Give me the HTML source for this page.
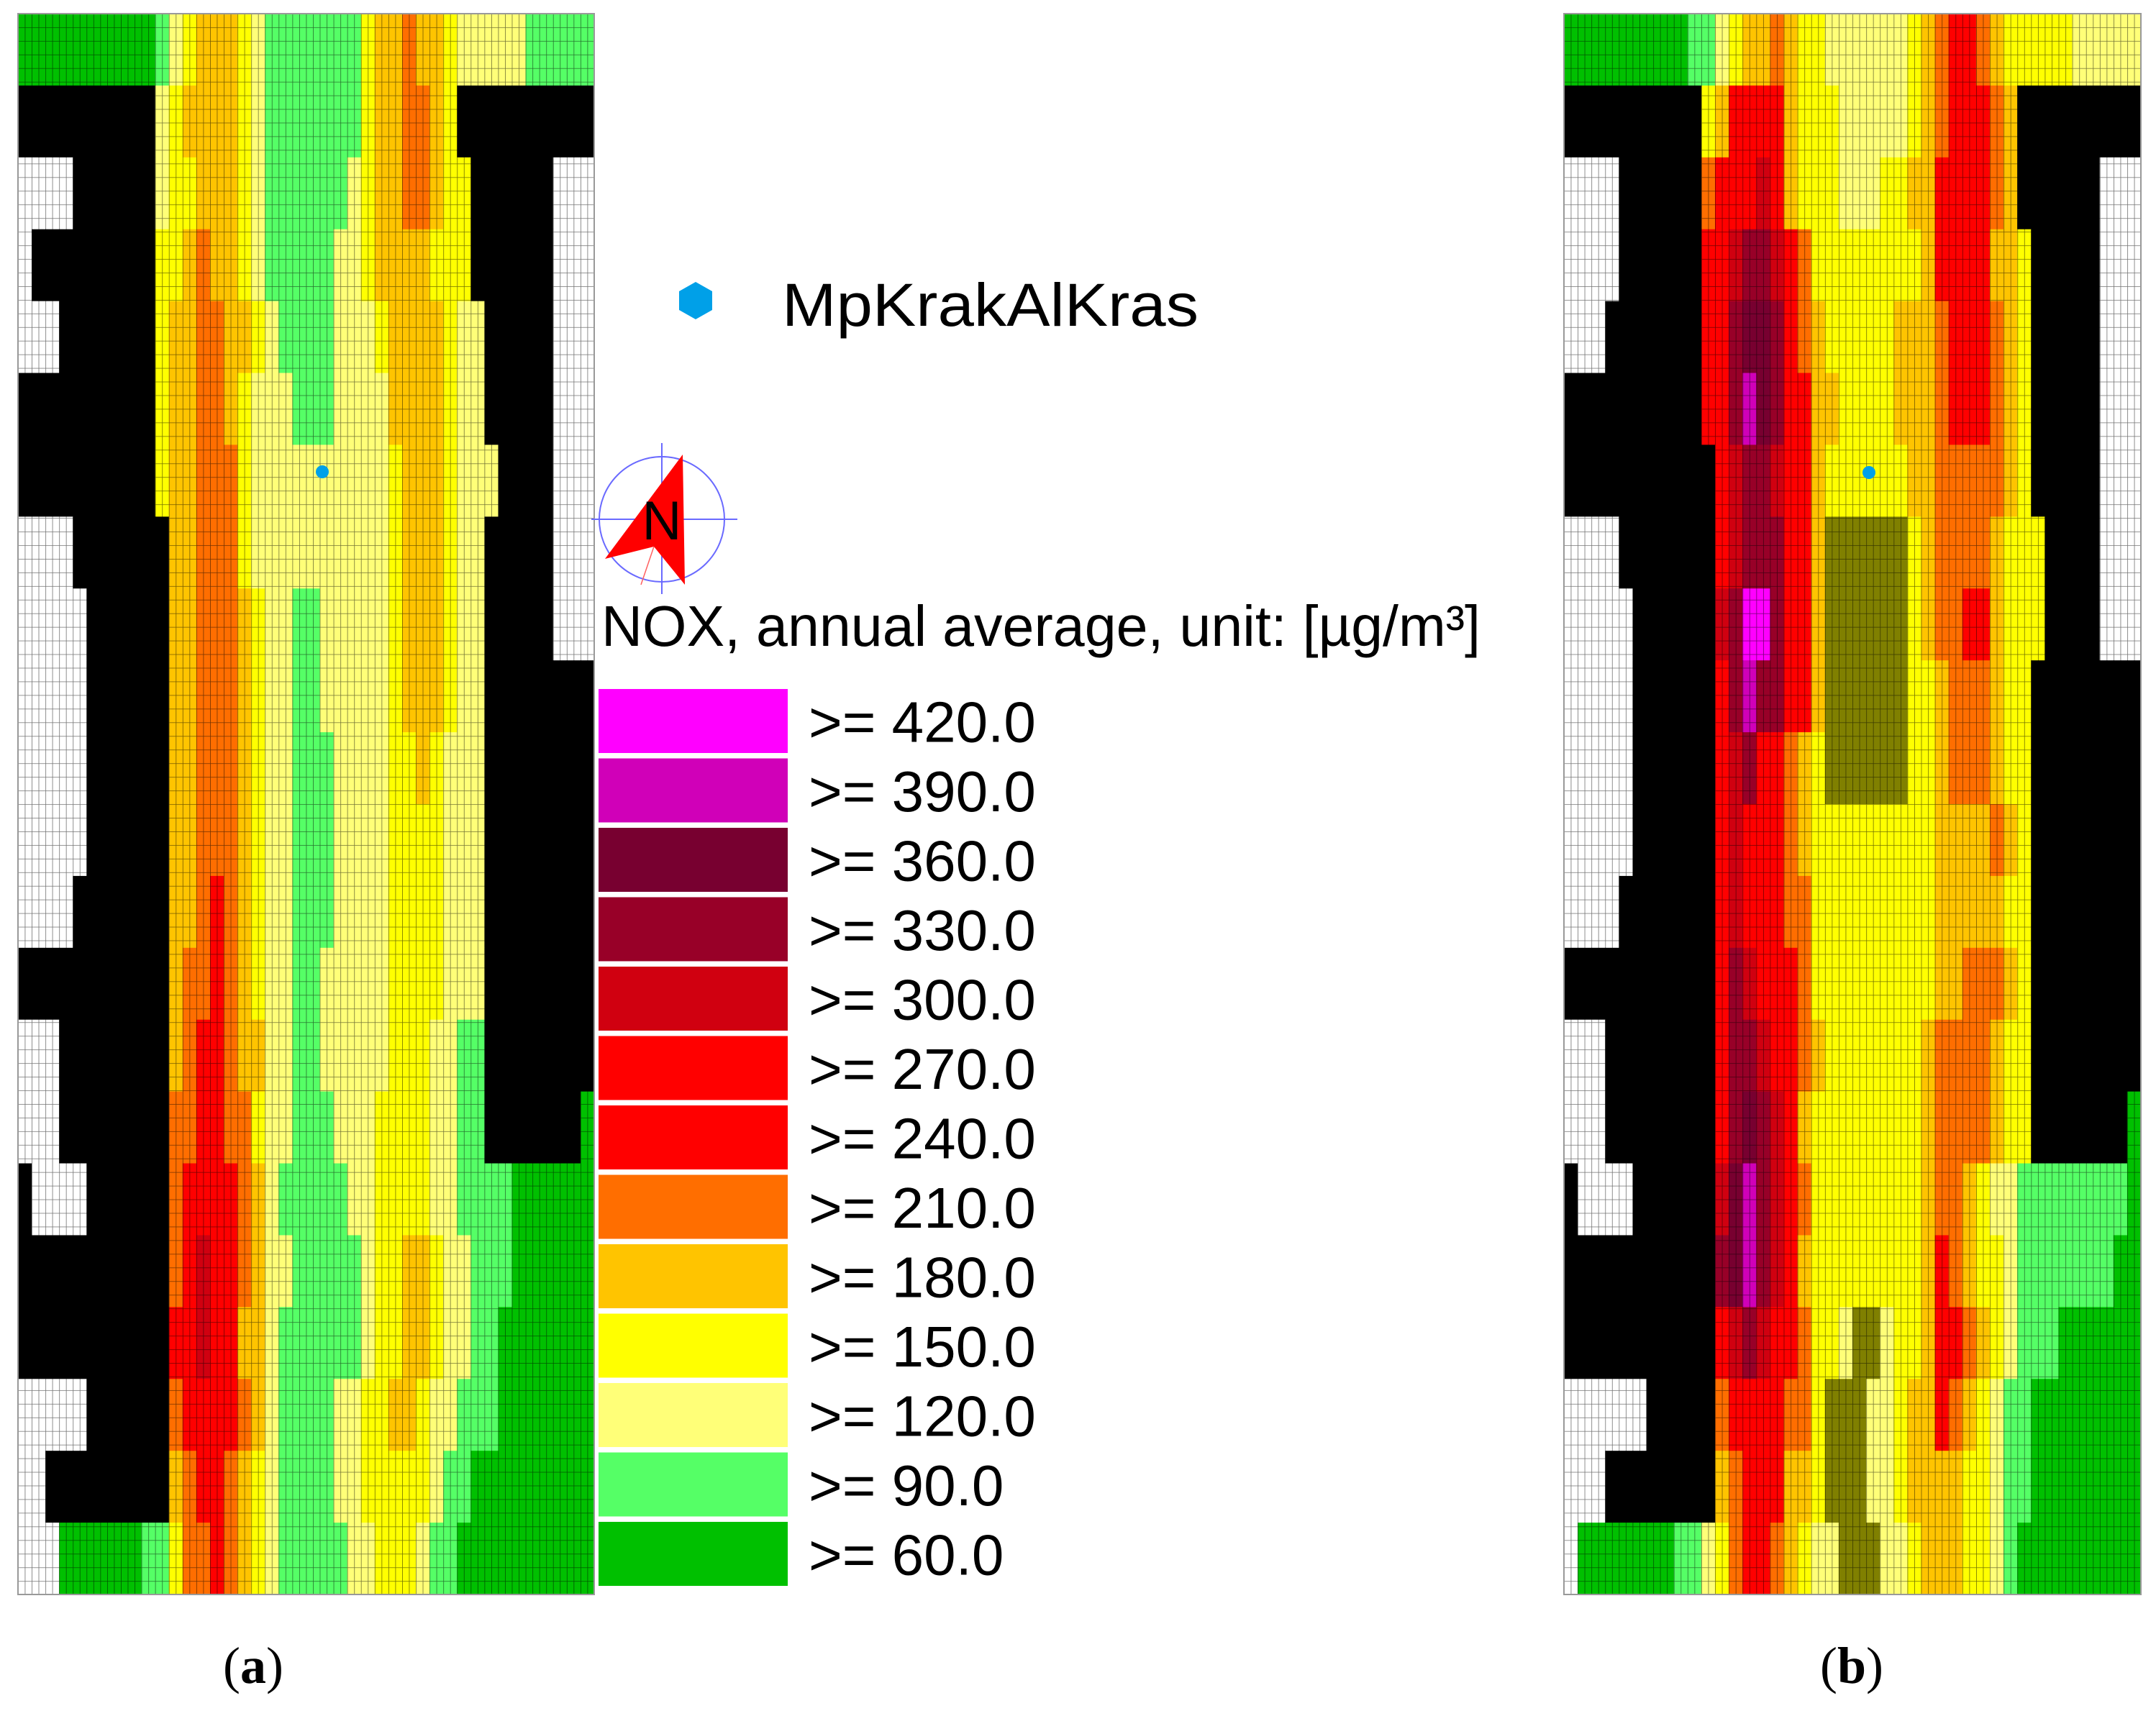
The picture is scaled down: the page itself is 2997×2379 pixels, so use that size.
<!DOCTYPE html>
<html><head><meta charset="utf-8"><title>NOX annual average maps</title>
<style>html,body{margin:0;padding:0;background:#fff}svg{display:block}</style></head>
<body>
<svg id="fig" xmlns="http://www.w3.org/2000/svg" width="2997" height="2379" viewBox="0 0 2997 2379">
<defs>
<pattern id="gridA" x="25" y="19" width="9.536" height="18.95" patternUnits="userSpaceOnUse">
<path d="M0 0H9.536M0 0V18.95" stroke="#000" stroke-opacity="0.55" stroke-width="1.6" fill="none"/>
</pattern>
<pattern id="gridB" x="2174" y="19" width="9.55" height="18.95" patternUnits="userSpaceOnUse">
<path d="M0 0H9.55M0 0V18.95" stroke="#000" stroke-opacity="0.55" stroke-width="1.6" fill="none"/>
</pattern>
</defs>
<g id="panelA"></g>
<g id="panelB"></g>
<rect x="25" y="19" width="801" height="2198" fill="url(#gridA)"/>
<rect x="2174" y="19" width="802" height="2198" fill="url(#gridB)"/>
<rect x="25" y="19" width="801" height="2198" fill="none" stroke="#999" stroke-width="2"/>
<rect x="2174" y="19" width="802" height="2198" fill="none" stroke="#999" stroke-width="2"/>
<circle cx="448" cy="656" r="9" fill="#00a0e8"/>
<circle cx="2598" cy="657" r="9" fill="#00a0e8"/>

<polygon points="967,392 990,405 990,431 967,444 944,431 944,405" fill="#00a0e8"/>
<text x="1087" y="453" font-family="Liberation Sans, sans-serif" font-size="84" textLength="579" lengthAdjust="spacingAndGlyphs" fill="#000">MpKrakAlKras</text>

<g>
<circle cx="920" cy="722" r="87" fill="none" stroke="#6a6aff" stroke-width="2"/>
<line x1="822" y1="722" x2="1025" y2="722" stroke="#6a6aff" stroke-width="2"/>
<line x1="920" y1="616" x2="920" y2="826" stroke="#6a6aff" stroke-width="2"/>
<polygon points="949,632 952,813 909,760 841,777" fill="#ff0000"/>
<line x1="909" y1="760" x2="891" y2="813" stroke="#ff6060" stroke-width="1.5"/>
<text x="920" y="750" text-anchor="middle" font-family="Liberation Sans, sans-serif" font-size="76" fill="#000">N</text>
</g>

<text x="836" y="898" font-family="Liberation Sans, sans-serif" font-size="80" textLength="1222" lengthAdjust="spacingAndGlyphs" fill="#000">NOX, annual average, unit: [µg/m³]</text>
<g id="legend"></g>

<text x="352" y="2340" text-anchor="middle" font-family="Liberation Serif, serif" font-size="72" fill="#000">(<tspan font-weight="bold">a</tspan>)</text>
<text x="2574" y="2340" text-anchor="middle" font-family="Liberation Serif, serif" font-size="72" fill="#000">(<tspan font-weight="bold">b</tspan>)</text>
</svg>
<script>
const legendLabels = [">= 420.0",">= 390.0",">= 360.0",">= 330.0",">= 300.0",">= 270.0",">= 240.0",">= 210.0",">= 180.0",">= 150.0",">= 120.0",">= 90.0",">= 60.0"];
const legendColors = ["#ff00ff","#d000b8","#780030","#980028","#d00010","#ff0000","#ff0000","#ff6e00","#ffc400","#ffff00","#ffff78","#55ff66","#00c000"];
const levelKeys = "cba9876543210";
const extraColors = {W:"#ffffff",K:"#000000",O:"#808000"};
// run-length rows: token = level char, optional *count
const panelA = [
"0*10 1 2 3 4*3 3 2 1*7 3 4*2 5 4*2 3 2*5 1*5",
"K*10 2 3 4*4 3 2 1*7 3 4*2 5*2 4 3 K*10",
"W*4 K*6 2 3 3 4*3 3 2 1*6 2 3 4*2 5*2 4 3 3 K*6 W*3",
"W K*9 3*2 4 5 4*2 3 2 1*5 2*2 3 4*4 3*3 K*6 W*3",
"W*3 K*7 3 4*2 5*2 4*2 3 2 1*4 2*3 3 4*4 3 2*2 K*5 W*3",
"K*10 3 4*2 5*2 4 3 2*2 2 1*3 2*4 4*4 3 2*2 K*5 W*3",
"K*10 3 4*2 5*3 3 2 2*3 2*6 3 4*3 3 2*3 K*4 W*3",
"W*4 K*7 4*2 5*3 3 2 2*9 3 4*3 3 2*2 K*5 W*3",
"W*5 K*6 4*2 5*3 4 3 2*2 1*2 2*5 3 4*3 3 2*2 K*5 W*3",
"W*5 K*6 4*2 5*3 4 3 2*2 1*2 2*5 3 4*3 3 2*2 K*8",
"W*5 K*6 4*2 5*3 4 3 2*2 1*3 2*4 3*2 4 3 2*3 K*8",
"W*5 K*6 4*2 5*3 4 3 2*2 1*3 2*4 3*4 2*3 K*8",
"W*4 K*7 4*2 5 6 5 4 3 2*2 1*3 2*4 3*4 2*3 K*8",
"K*11 4 5*2 6 5 4 3 2*2 1*2 2*5 3*4 2*3 K*8",
"W*3 K*8 4 5 6*2 5 4*2 2*2 1*2 2*5 3*3 2*2 1*2 K*8",
"W*3 K*8 5*2 6*2 5*2 3 2*2 1*3 2*3 3*4 2*2 1*2 K*7 0",
"K W*4 K*6 5 6*4 5 4 2 1*5 2*2 3*4 2*2 1*4 0*6",
"K*11 5 6 8 6*2 5 4 2*2 1*5 2 3*2 4*2 3 2*2 1*3 0*6",
"K*11 6 6 8 6*2 4*2 2 1*6 2 3*2 4*2 3 2*2 1*2 0*7",
"W*5 K*6 5 6*4 5 4 2 1*4 2*2 3*2 4*2 3 2*2 1*3 0*7",
"W*2 K*9 4 5 6*2 5 4 3 2 1*4 2*2 3*5 2 1*2 0*9",
"W*3 0*6 1*2 3 5*2 6 5 4 3 2 1*5 2*2 3*3 2 1*2 0*10"
];
const panelB = [
"0*9 1*2 2 3 4*2 5 4 3 3 2*6 3 4 5 6*2 5 4 3 3*4 2*5",
"K*10 3 4 6*4 4 3*3 2*5 3 4 5 6*3 5 4 K*9",
"W*4 K*6 5 6*3 8 6 4 3*3 2*3 3*2 4*2 6*4 5 4 K*6 W*3",
"W*4 K*6 6*2 8 9*2 8 6 5 3*8 4 6*4 4*2 3 K*5 W*3",
"W*3 K*7 6*2 9 a*2 9 6 5 4 3*5 4*3 5 6*3 5 4 3 K*5 W*3",
"K*10 6*2 9 b a 9 6*2 4*2 3*4 4*3 5 6*3 5 4 3 K*5 W*3",
"K*11 6 8 9*2 8 6*2 4 3*6 4*2 5*5 4 3 K*5 W*3",
"W*4 K*7 6 8 9*3 6*2 4 O*6 3 4 5*4 4 3*3 K*4 W*3",
"W*5 K*6 8 9 c*2 9 6*2 4 O*6 3 4 5*2 6*2 4 3*3 K*4 W*3",
"W*5 K*6 6 9 b 9*2 6*2 4 O*6 3*2 4 5*3 4 3*2 K*8",
"W*5 K*6 6 8 9 6*2 5 4 3 O*6 3*2 4 5*3 4 3*2 K*8",
"W*5 K*6 6 8 6*3 5 4 3*9 4*4 5 4 3 K*8",
"W*4 K*7 6 8 6*3 5*2 3*9 4*5 3*2 K*8",
"K*11 6 9 8 6*3 5 3*9 4*2 5*3 4 3 K*8",
"W*3 K*8 6 9*2 8 6*2 5 4 3*7 4 5*4 4 3*2 K*8",
"W*3 K*8 6 9 a 9 8 6 4 3 3*7 4 5*4 4 3*2 K*7 0",
"K W*4 K*6 8 a b 9 8 6 5 3 3*7 4 5*2 4 3 2*2 1*8 0",
"K*11 9 a b 9 8 6 4 3 3*7 4 6 5 4 3*2 2 1*7 0*2",
"K*11 6 8 9 8 6*2 5 3*2 2 O*2 2 3*2 4 6*2 5 4 3 2 1*3 0*6",
"W*6 K*5 5 6*4 5*2 3 O*3 2*2 3 4*2 6 5 4 3 2 1*2 0*8",
"W*3 K*8 4 5 6*3 4*2 3 O*3 2*2 3 4*4 3*2 2 1*2 0*8",
"W 0*7 1*2 2 3 5 6*2 5 4 3 2*2 O*3 2*2 3 4*3 3*2 2 1 0*9"
];
</script>
<script>
const NS = "http://www.w3.org/2000/svg";
const N_COLS = 42;
function expandRow(spec) {
  let out = "";
  spec.trim().split(/\s+/).forEach(tok => {
    const parts = tok.split("*");
    const n = parts.length > 1 ? parseInt(parts[1], 10) : 1;
    out += parts[0].repeat(n);
  });
  while (out.length < N_COLS) out += out[out.length - 1];
  return out.slice(0, N_COLS);
}
function colorFor(ch) {
  if (extraColors[ch]) return extraColors[ch];
  const i = levelKeys.indexOf(ch);
  return i >= 0 ? legendColors[i] : "#ffffff";
}
function drawPanel(groupId, specs, x0, y0, w, h) {
  const g = document.getElementById(groupId);
  const rows = specs.map(expandRow);
  const nRows = rows.length;
  const cw = w / N_COLS, rh = h / nRows;
  const xScale = c => x0 + c * cw;
  const yScale = r => y0 + r * rh;
  for (let r = 0; r < nRows; r++) {
    for (let c = 0; c < N_COLS; c++) {
      const rect = document.createElementNS(NS, "rect");
      rect.setAttribute("x", xScale(c).toFixed(2));
      rect.setAttribute("y", yScale(r).toFixed(2));
      rect.setAttribute("width", (cw + 0.6).toFixed(2));
      rect.setAttribute("height", (rh + 0.6).toFixed(2));
      rect.setAttribute("fill", colorFor(rows[r][c]));
      
      
      g.appendChild(rect);
    }
  }
}
drawPanel("panelA", panelA, 25, 19, 801, 2198);
drawPanel("panelB", panelB, 2174, 19, 802, 2198);

const lg = document.getElementById("legend");
const swX = 832, swY0 = 958, swPitch = 96.5, swW = 263, swH = 89;
const legY = i => swY0 + i * swPitch;
legendLabels.forEach((lab, i) => {
  const r = document.createElementNS(NS, "rect");
  r.setAttribute("x", swX);
  r.setAttribute("y", legY(i));
  r.setAttribute("width", swW);
  r.setAttribute("height", swH);
  r.setAttribute("fill", legendColors[i]);
  
  
  lg.appendChild(r);
  const t = document.createElementNS(NS, "text");
  t.setAttribute("x", 1124);
  t.setAttribute("y", legY(i) + swH / 2 + 29);
  t.setAttribute("font-family", "Liberation Sans, sans-serif");
  t.setAttribute("font-size", "80");
  t.setAttribute("fill", "#000");
  t.textContent = lab;
  
  
  lg.appendChild(t);
});
</script>
</body></html>
